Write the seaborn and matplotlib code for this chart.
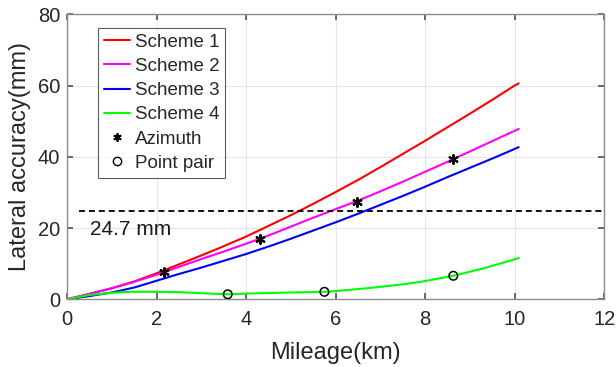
import matplotlib
matplotlib.use("Agg")
import matplotlib.pyplot as plt
import seaborn as sns
import pandas as pd
from matplotlib.lines import Line2D

sns.set_theme(style="whitegrid")
plt.rcParams['font.family'] = ['Liberation Sans', 'DejaVu Sans']

mileage = [0, 0.5, 1, 1.5, 2, 2.5, 3, 3.5, 4, 4.5, 5, 5.5, 6, 6.5, 7, 7.5,
           8, 8.5, 9, 9.5, 10, 10.09]
scheme1 = [0, 1.5, 3.1, 5.0, 7.3, 9.8, 12.3, 14.9, 17.6, 20.6, 23.6, 26.8,
           30.1, 33.5, 37.1, 40.8, 44.5, 48.3, 52.1, 56.0, 60.0, 60.6]
scheme2 = [0, 1.5, 3.1, 4.9, 6.9, 9.1, 11.3, 13.4, 15.6, 17.9, 20.4, 22.9,
           25.3, 27.7, 30.3, 33.0, 35.8, 38.6, 41.5, 44.4, 47.3, 47.8]
scheme3 = [0, 0.9, 1.9, 3.3, 5.2, 7.1, 8.9, 10.8, 12.7, 14.8, 17.0, 19.3,
           21.6, 24.0, 26.5, 29.0, 31.6, 34.3, 36.9, 39.5, 42.2, 42.7]
green_x = [0, 0.5, 1, 1.42, 2, 2.5, 3, 3.59, 4, 4.5, 5, 5.75, 6, 6.7, 7, 7.5,
           7.9, 8.63, 9.31, 9.94, 10.09]
scheme4 = [0, 1.2, 1.8, 2.1, 2.1, 2.0, 1.7, 1.4, 1.6, 1.75, 1.9, 2.1, 2.3,
           3.1, 3.5, 4.2, 4.9, 6.6, 8.7, 11.0, 11.6]

azimuth_x = [2.16, 4.32, 6.47, 8.62]
azimuth_y = [7.6, 16.9, 27.4, 39.3]
pair_x = [3.59, 5.75, 8.63]
pair_y = [1.4, 2.1, 6.6]

threshold = 24.7
names = ["Scheme 1", "Scheme 2", "Scheme 3", "Scheme 4"]
colors = ["#ff0000", "#ff00ff", "#0000ff", "#00ff00"]

rows = []
for name, ys in zip(names[:3], [scheme1, scheme2, scheme3]):
    for x, y in zip(mileage, ys):
        rows.append((name, x, y))
for x, y in zip(green_x, scheme4):
    rows.append((names[3], x, y))
df = pd.DataFrame(rows, columns=["scheme", "km", "acc"])

fig = plt.figure(figsize=(6.16, 3.67), dpi=100)
ax = fig.add_axes([0.1088, 0.1845, 0.872, 0.7766])

sns.lineplot(data=df, x="km", y="acc", hue="scheme", palette=dict(zip(names, colors)),
             sort=False, linewidth=1.5, ax=ax, legend=False)
sns.scatterplot(x=azimuth_x, y=azimuth_y, marker=(6, 2, 0), color="black", s=40,
                linewidth=1.5, ax=ax, zorder=5)
sns.scatterplot(x=pair_x, y=pair_y, marker="o", facecolor="none", edgecolor="black",
                s=38, linewidth=1.1, ax=ax, zorder=5)
ax.axhline(threshold, xmin=0.0217, color="black", linestyle=(0, (3.3, 2.2)), linewidth=1.3)
ax.text(0.51, 19.5, f"{threshold} mm", fontsize=15, va="center", ha="left", color="#1a1a1a")

ax.set_xlim(0, 12)
ax.set_ylim(0, 80)
ax.set_xticks(range(0, 13, 2))
ax.set_yticks(range(0, 81, 20))
ax.set_xlabel("Mileage(km)", fontsize=17, color="#262626", labelpad=9)
ax.set_ylabel("Lateral accuracy(mm)", fontsize=17, color="#262626", labelpad=5)
ax.tick_params(axis="both", labelsize=14.5, colors="#262626", direction="in", length=4,
               top=True, right=True, left=True, bottom=True, color="#555555")
ax.tick_params(axis="x", pad=8)
ax.tick_params(axis="y", pad=5)
ax.grid(True, color="#e6e6e6", linewidth=0.8)
ax.set_facecolor("white")
for sp in ax.spines.values():
    sp.set_color("#8c8c8c")
    sp.set_linewidth(1.0)

handles = [Line2D([], [], color=c, lw=1.5) for c in colors]
handles.append(Line2D([], [], color="black", marker=(6, 2, 0), linestyle="none", markersize=6, markeredgewidth=1.3))
handles.append(Line2D([], [], color="black", marker="o", markerfacecolor="none", linestyle="none", markersize=6))
leg = ax.legend(handles, names + ["Azimuth", "Point pair"], loc="upper left",
                bbox_to_anchor=(0.0577, 0.952), fontsize=13.5, frameon=True, fancybox=False,
                edgecolor="#333333", handlelength=1.4, handletextpad=0.25,
                labelspacing=0.38, borderpad=0.3, borderaxespad=0)
leg.get_frame().set_linewidth(0.8)

fig.savefig("out.png", dpi=100)
